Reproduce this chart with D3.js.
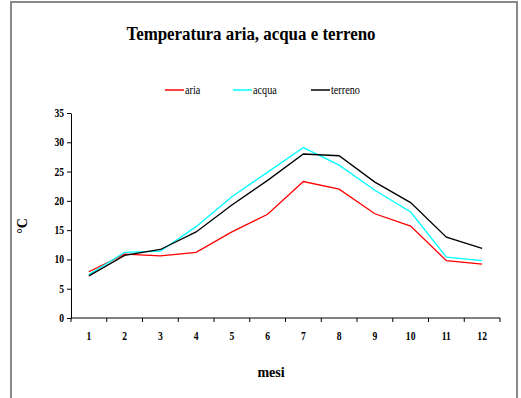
<!DOCTYPE html>
<html>
<head>
<meta charset="utf-8">
<script src="https://cdn.jsdelivr.net/npm/d3@7"></script>
<style>
  html, body { margin: 0; padding: 0; background: #fff; }
  svg { display: block; }
</style>
</head>
<body>
<svg id="chart" width="521" height="398"></svg>
<script>
// Monthly mean temperatures (°C)
const months = ["1","2","3","4","5","6","7","8","9","10","11","12"];
const aria    = [7.9, 10.9, 10.6, 11.2, 14.7, 17.7, 23.3, 22.0, 17.8, 15.7, 9.8, 9.2];
const acqua   = [7.4, 11.2, 11.4, 15.6, 20.7, 24.9, 29.1, 26.1, 21.8, 18.1, 10.4, 9.8];
const terreno = [7.2, 10.7, 11.7, 14.7, 19.3, 23.5, 28.0, 27.7, 23.2, 19.7, 13.8, 11.9];
const yTicks  = [0, 5, 10, 15, 20, 25, 30, 35];

const series = [
  { name: "aria",    values: aria,    color: "#ff0000" },
  { name: "acqua",   values: acqua,   color: "#00ffff" },
  { name: "terreno", values: terreno, color: "#000000" }
];

const svg = d3.select("#chart");
const font = "'Liberation Serif', 'Times New Roman', serif";

// narrow serif text: placed at (x,y), squeezed horizontally by sx
function label(parent, x, y, txt, opts) {
  const o = Object.assign({ size: 12, bold: false, anchor: "start", sx: 1, rotate: 0 }, opts);
  const g = parent.append("g")
    .attr("transform", `translate(${x},${y}) rotate(${o.rotate}) scale(${o.sx},1)`);
  g.append("text")
    .attr("text-anchor", o.anchor)
    .attr("font-family", font)
    .attr("font-size", o.size)
    .attr("font-weight", o.bold ? "bold" : "normal")
    .attr("fill", "#000")
    .text(txt);
  return g;
}

// outer chart frame (bottom edge runs off the page)
svg.append("path")
  .attr("d", "M11,420 V2 H517 V420")
  .attr("fill", "none")
  .attr("stroke", "#8a8a8a")
  .attr("stroke-width", 2);

const plot = { left: 71, right: 500, top: 113, bottom: 318 };

const x = d3.scaleBand().domain(months).range([plot.left, plot.right]);
const y = d3.scaleLinear().domain([0, 35]).range([plot.bottom, plot.top]);

// y axis
const yAxis = svg.append("g")
  .attr("transform", `translate(${plot.left},0)`)
  .call(d3.axisLeft(y).tickValues(yTicks).tickSize(4).tickSizeOuter(0).tickFormat(""));
yAxis.select(".domain").attr("stroke", "#000");
yAxis.selectAll(".tick line").attr("stroke", "#000");
yTicks.forEach(v => label(svg, 64, y(v) + 4, String(v), { size: 12, bold: true, anchor: "end", sx: 0.8 }));

// x axis: ticks sit between categories
const xAxis = svg.append("g")
  .attr("transform", `translate(0,${plot.bottom})`);
xAxis.append("line")
  .attr("x1", plot.left).attr("x2", plot.right)
  .attr("stroke", "#000");
const edges = months.map(m => x(m)).concat([plot.right]);
xAxis.selectAll("line.tk").data(edges).enter().append("line")
  .attr("class", "tk")
  .attr("x1", d => d).attr("x2", d => d)
  .attr("y1", 0).attr("y2", 4)
  .attr("stroke", "#000");
months.forEach(m => label(svg, x(m) + x.bandwidth() / 2, plot.bottom + 22, m,
  { size: 12, bold: true, anchor: "middle", sx: 0.8 }));

// lines
const line = d3.line()
  .x((d, i) => x(months[i]) + x.bandwidth() / 2)
  .y(d => y(d));

svg.selectAll("path.series").data(series).enter().append("path")
  .attr("class", "series")
  .attr("d", d => line(d.values))
  .attr("fill", "none")
  .attr("stroke", d => d.color)
  .attr("stroke-width", 1.3);

// title
label(svg, 251, 40, "Temperatura aria, acqua e terreno", { size: 19, bold: true, anchor: "middle", sx: 0.89 });

// legend
const legendX = [165, 233, 311];
series.forEach((s, i) => {
  svg.append("line")
    .attr("x1", legendX[i]).attr("x2", legendX[i] + 19)
    .attr("y1", 90).attr("y2", 90)
    .attr("stroke", s.color).attr("stroke-width", 1.5);
  label(svg, legendX[i] + 20, 94, s.name, { size: 12, sx: 0.85 });
});

// axis titles
label(svg, 27, 226, "°C", { size: 14, bold: true, anchor: "middle", rotate: -90 });
label(svg, 271, 377, "mesi", { size: 14, bold: true, anchor: "middle" });
</script>
</body>
</html>
